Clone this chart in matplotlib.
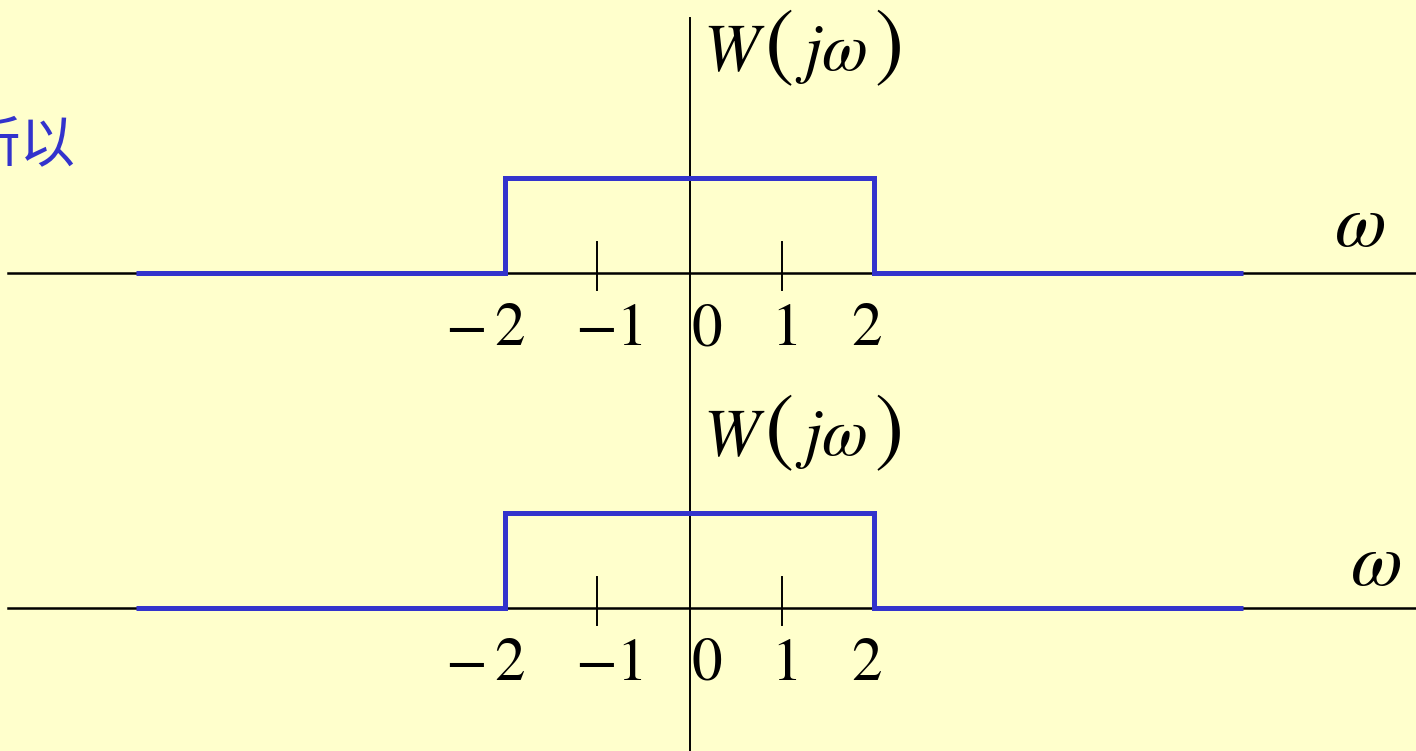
import matplotlib.pyplot as plt

plt.rcParams['mathtext.fontset'] = 'stix'

# ideal low-pass window W(jw): 1 for |w| < 2, 0 elsewhere
omega = [-6, -2, -2, 2, 2, 6]
W = [0, 0, 1, 1, 0, 0]
tick_vals = [-1, 1]
label_vals = [-2, -1, 0, 1, 2]
label_text = [r'$\mathrm{-\,2}$', r'$\mathrm{-1}$', r'$\mathrm{0}$',
              r'$\mathrm{1}$', r'$\mathrm{2}$']

bg = '#FFFFCC'
blue = '#3333CC'

W_PX, H_PX = 1416, 751
fig = plt.figure(figsize=(W_PX / 100, H_PX / 100), dpi=100, facecolor=bg)
ax = fig.add_axes([0, 0, 1, 1])
ax.set_facecolor(bg)
ax.axis('off')

# one data unit in pixels, origin of the lower panel
ux, uy = 92.25, 95.0
x0, y0 = 689.5, 608.0
ax.set_xlim(-x0 / ux, (W_PX - x0) / ux)
ax.set_ylim(-(H_PX - y0) / uy, y0 / uy)


def px(x):
    return (x - x0) / ux


# two panels stacked: baseline, height of the W(jw) baseline, omega label
panels = [
    dict(base=(y0 - 273) / uy, lab=203, om=(1360, 0.50)),
    dict(base=0.0, lab=153, om=(1376, 0.46)),
]
# small horizontal nudges (px) of the tick numbers
nudge = [-20, 12, 17, 2, -8]

xleft = px(8)

# shared vertical axis
ax.plot([0, 0], [ax.get_ylim()[0], (y0 - 18) / uy], color='black', lw=1.4)

for p in panels:
    b = p['base']
    ax.plot([xleft, ax.get_xlim()[1]], [b, b], color='black', lw=1.8, zorder=1)
    for t in tick_vals:
        ax.plot([t, t], [b - 0.18, b + 0.33], color='black', lw=1.4)
    ax.plot(omega, [b + w for w in W], color=blue, lw=3.6,
            solid_joinstyle='miter', solid_capstyle='butt', zorder=3)
    for v, s, n in zip(label_vals, label_text, nudge):
        ax.text(v + n / ux, b - 72 / uy, s, ha='center', va='baseline',
                fontsize=44)

    # W(jw) with tall parentheses
    yl = b + p['lab'] / uy
    ax.text(px(703), yl, r'$W$', ha='left', va='baseline', fontsize=48)
    ax.text(px(764), yl, r'$\mathrm{(}$', ha='left', va='baseline', fontsize=63)
    ax.text(px(795), yl, r'$j\omega$', ha='left', va='baseline', fontsize=48)
    ax.text(px(874), yl, r'$\mathrm{)}$', ha='left', va='baseline', fontsize=63)

    ox, oy = p['om']
    ax.text(px(ox), b + oy, r'$\omega$', ha='center', va='center',
            fontsize=54)

fig.text(75 / W_PX, 1 - 145 / H_PX, '所以', ha='right', va='center',
         fontsize=40, color=blue, family=['Noto Sans CJK SC', 'DejaVu Sans'])

fig.savefig('out.png', dpi=100, facecolor=bg)
